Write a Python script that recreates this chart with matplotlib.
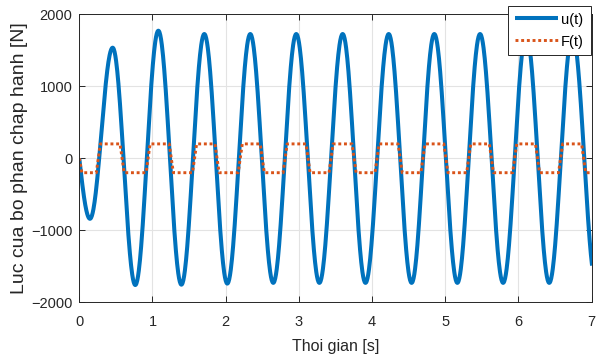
import numpy as np
import matplotlib.pyplot as plt

plt.rcParams['font.family'] = ['Liberation Sans', 'DejaVu Sans']

# extrema of u(t) (time [s], force [N])
t_ext = [0.0, 0.146, 0.456, 0.765, 1.080, 1.395, 1.708, 2.022, 2.336, 2.650,
         2.964, 3.280, 3.598, 3.910, 4.227, 4.540, 4.850, 5.165, 5.475, 5.790,
         6.105, 6.420, 6.737, 7.060]
u_ext = [0, -840, 1536, -1760, 1772, -1755, 1726, -1740, 1726, -1730,
         1726, -1730, 1726, -1730, 1726, -1730, 1726, -1730, 1726, -1730,
         1726, -1730, 1726, -1730]

# F(t): +-200 N, switching times
F_level = 200
F_switch = [0.26, 0.585, 0.94, 1.257, 1.575, 1.882, 2.199, 2.50, 2.812, 3.125,
            3.44, 3.754, 4.068, 4.384, 4.695, 5.008, 5.32, 5.63, 5.948, 6.26,
            6.575, 6.89]
ramp = 0.028

# u curve: half-cosine between consecutive extrema (quarter sine for the start)
tu, uu = [], []
for i in range(len(t_ext) - 1):
    ta, tb, ua, ub = t_ext[i], t_ext[i + 1], u_ext[i], u_ext[i + 1]
    tt = np.linspace(ta, tb, 60)
    f = (tt - ta) / (tb - ta)
    if i == 0:
        seg = ub * np.sin(np.pi / 2 * f)
    else:
        seg = ua + (ub - ua) * (1 - np.cos(np.pi * f)) / 2
    tu.extend(tt)
    uu.extend(seg)

# F curve: piecewise linear square wave
tf, ff = [0.0, 0.035], [0, -F_level]
sign = -1
for s in F_switch:
    tf += [s - ramp, s + ramp]
    ff += [sign * F_level, -sign * F_level]
    sign = -sign
tf.append(7.0)
ff.append(sign * F_level)

fig = plt.figure(figsize=(5.97, 3.62), dpi=100)
ax = fig.add_axes([0.1328, 0.1649, 0.8583, 0.7956])

ax.plot(tu, uu, color='#0072BD', lw=2.9, label='u(t)', solid_capstyle='butt')
ax.plot(tf, ff, color='#D95319', lw=2.1, ls=(0, (1, 0.95)), label='F(t)')

ax.set_xlim(0, 7)
ax.set_ylim(-2000, 2000)
ax.set_xticks(range(8))
ax.set_yticks([-2000, -1000, 0, 1000, 2000])
ax.grid(True, color='#E3E3E3', lw=0.8)
ax.set_axisbelow(True)
ax.tick_params(direction='in', top=True, right=True, length=4, width=0.7,
               labelsize=10.5, colors='#262626')
ax.tick_params(axis='x', pad=9)
ax.tick_params(axis='y', pad=5)
for sp in ax.spines.values():
    sp.set_color('#262626')
    sp.set_linewidth(0.7)

ax.set_xlabel('Thoi gian [s]', fontsize=11.5, color='#262626', labelpad=7)
ax.set_ylabel('Luc cua bo phan chap hanh [N]', fontsize=14, color='#262626', labelpad=2)

leg = ax.legend(loc='upper right', bbox_to_anchor=(0.998, 1.029), fontsize=10.5,
                fancybox=False, framealpha=1, edgecolor='#262626', handlelength=3.0,
                borderpad=0.45, labelspacing=0.55, handletextpad=0.2, borderaxespad=0)
leg.get_frame().set_linewidth(0.7)

fig.savefig('out.png', dpi=100)
